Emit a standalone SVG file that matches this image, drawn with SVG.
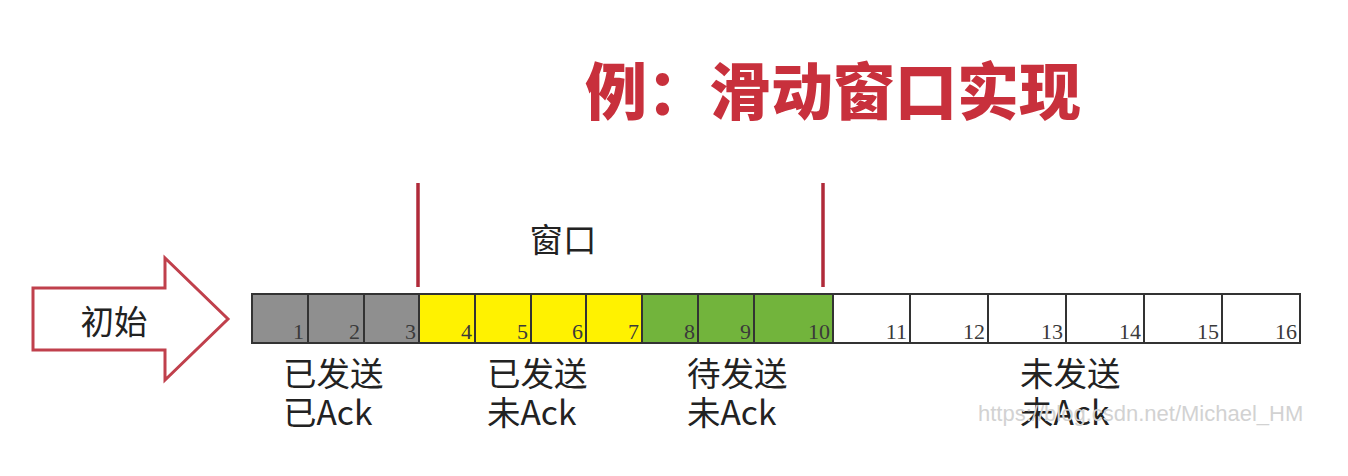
<svg xmlns="http://www.w3.org/2000/svg" width="1348" height="476" viewBox="0 0 1348 476">
<style>
.cell{stroke:#333;stroke-width:2}
.g{fill:#8f8f8f}.y{fill:#fff200}.gr{fill:#72b43c}.w{fill:#fff}
.num{font-family:"Liberation Serif",serif;font-size:22px;fill:#3a3a3a;text-anchor:end}
.lbl{font-family:"Noto Sans CJK SC","Noto Sans",sans-serif;font-size:33.5px;fill:#222}
.win{stroke:#b02a3a;stroke-width:3.5}
</style>
<rect width="1348" height="476" fill="#fff"/>
<g id="title">
<text x="585" y="115" font-family="'Noto Sans CJK SC',sans-serif" font-weight="900" font-size="62" fill="#c8303c">例：滑动窗口实现</text>
</g>
<g id="start-arrow">
<path d="M33,288 L165,288 L165,258 L228,319 L165,380 L165,350 L33,350 Z" fill="#fff" stroke="#c0404c" stroke-width="3"/>
<text x="114" y="334" text-anchor="middle" class="lbl" font-size="38">初始</text>
</g>
<g id="window">
<line class="win" x1="418" y1="183" x2="418" y2="287"/>
<line class="win" x1="823" y1="183" x2="823" y2="287"/>
<text x="563" y="252" text-anchor="middle" class="lbl" font-size="43">窗口</text>
</g>
<g id="cells">
<rect class="cell g" x="252" y="294" width="56" height="49"/>
<rect class="cell g" x="308" y="294" width="56" height="49"/>
<rect class="cell g" x="364" y="294" width="55" height="49"/>
<rect class="cell y" x="419" y="294" width="56" height="49"/>
<rect class="cell y" x="475" y="294" width="56" height="49"/>
<rect class="cell y" x="531" y="294" width="55" height="49"/>
<rect class="cell y" x="586" y="294" width="56" height="49"/>
<rect class="cell gr" x="642" y="294" width="56" height="49"/>
<rect class="cell gr" x="698" y="294" width="56" height="49"/>
<rect class="cell gr" x="754" y="294" width="79" height="49"/>
<rect class="cell w" x="833" y="294" width="77" height="49"/>
<rect class="cell w" x="910" y="294" width="78" height="49"/>
<rect class="cell w" x="988" y="294" width="78" height="49"/>
<rect class="cell w" x="1066" y="294" width="78" height="49"/>
<rect class="cell w" x="1144" y="294" width="78" height="49"/>
<rect class="cell w" x="1222" y="294" width="78" height="49"/>
<text class="num" x="304" y="339">1</text>
<text class="num" x="360" y="339">2</text>
<text class="num" x="416" y="339">3</text>
<text class="num" x="472" y="339">4</text>
<text class="num" x="528" y="339">5</text>
<text class="num" x="583" y="339">6</text>
<text class="num" x="639" y="339">7</text>
<text class="num" x="695" y="339">8</text>
<text class="num" x="751" y="339">9</text>
<text class="num" x="830" y="339">10</text>
<text class="num" x="907" y="339">11</text>
<text class="num" x="985" y="339">12</text>
<text class="num" x="1063" y="339">13</text>
<text class="num" x="1141" y="339">14</text>
<text class="num" x="1219" y="339">15</text>
<text class="num" x="1297" y="339">16</text>
</g>
<g id="labels">
<text class="lbl" x="283" y="386">已发送</text>
<text class="lbl" x="283" y="425">已Ack</text>
<text class="lbl" x="487" y="386">已发送</text>
<text class="lbl" x="487" y="425">未Ack</text>
<text class="lbl" x="687" y="386">待发送</text>
<text class="lbl" x="687" y="425">未Ack</text>
<text class="lbl" x="1020" y="386">未发送</text>
<text class="lbl" x="1020" y="425">未Ack</text>
</g>
<g id="watermark">
<text x="978" y="421" font-family="'Liberation Sans',Arial,sans-serif" font-size="22" fill="#d2d2d2">https://blog.csdn.net/Michael_HM</text>
</g>
</svg>
